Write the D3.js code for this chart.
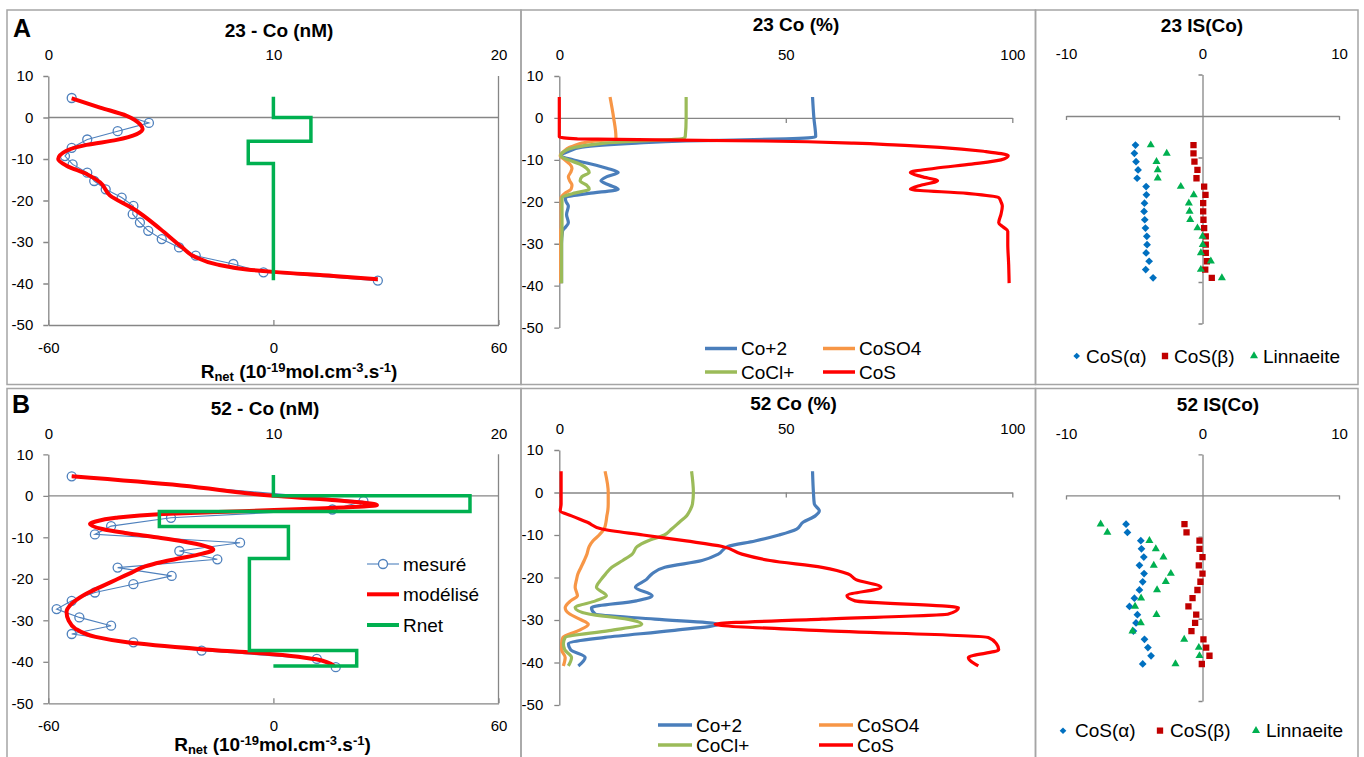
<!DOCTYPE html>
<html><head><meta charset="utf-8">
<script src="https://cdn.jsdelivr.net/npm/d3@7"></script>
<style>body{margin:0;background:#fff}</style>
</head><body><script>
// ---------------- DATA ----------------
const depthTicks = [10, 0, -10, -20, -30, -40, -50];
const concTicks = [0, 10, 20];
const rnetTicks = [-60, 0, 60];
const pctTicks = [0, 50, 100];
const isTicks = [-10, 0, 10];
const speciesNames = ["Co+2", "CoSO4", "CoCl+", "CoS"];
const isNames = ["CoS(α)", "CoS(β)", "Linnaeite"];
const profileNames = ["mesuré", "modélisé", "Rnet"];

// Panel A left: Co (nM) measured / modelled, Rnet
const A_measDepth = [4.7, -1.3, -3.3, -5.3, -7.3, -9.3, -11.3, -13.3, -15.3, -17.3, -19.3, -21.3, -23.3, -25.3, -27.3, -29.3, -31.3, -33.3, -35.3, -37.3, -39.3];
const A_measConc = [1.04, 4.47, 3.08, 1.73, 1.04, 0.74, 1.08, 1.73, 2.04, 2.55, 3.26, 3.78, 3.75, 4.07, 4.44, 5.04, 5.81, 6.55, 8.22, 9.56, 14.64];
const A_modDepth = [4.64, 2.4, 0.4, -1.6, -2.8, -4.0, -5.4, -6.6, -8.0, -10.0, -11.6, -13.6, -15.6, -18.8, -22, -26.8, -31.2, -33.6, -35.4, -36.6, -37.2, -38.2, -39.0];
const A_modConc = [1.04, 2.3, 3.48, 4.07, 4.19, 3.93, 3.04, 1.7, 0.81, 0.44, 0.81, 1.7, 2.3, 2.74, 3.78, 4.96, 5.93, 6.52, 7.48, 8.81, 10.0, 12.67, 14.64];
const A_rnetBounds = [5, 0, -5.7, -11.1, -39.2];
const A_rnetVal = [0, 10, -6.7, 0];

// Panel B left
const B_measDepth = [4.7, -1.3, -3.3, -5.3, -7.3, -9.3, -11.3, -13.3, -15.3, -17.3, -19.3, -21.3, -23.3, -25.3, -27.3, -29.3, -31.3, -33.3, -35.3, -37.3, -39.3, -41.3];
const B_measConc = [1.04, 14.0, 12.62, 5.45, 2.79, 2.07, 8.52, 5.82, 7.51, 3.08, 5.48, 3.78, 2.07, 1.04, 0.37, 1.38, 2.79, 1.04, 3.78, 6.81, 11.93, 12.77];
const B_modDepth = [4.7, 2.5, 0, -1, -2.25, -3, -3.7, -4.4, -5.3, -6.2, -6.8, -8, -9, -10, -11, -12, -13, -14, -15, -16, -17, -18.5, -20, -22, -24, -26, -28, -30, -32, -34, -35.3, -36.9, -38.2, -39, -39.4, -41];
const B_modConc = [1.04, 5.9, 10, 12.6, 14.6, 12.3, 8.6, 5.1, 3.0, 2.1, 1.85, 2.4, 3.5, 4.8, 6.0, 6.9, 7.33, 6.8, 5.9, 5.0, 4.3, 3.7, 3.1, 2.3, 1.55, 1.04, 0.81, 0.9, 1.2, 2.1, 3.5, 6.7, 10, 11.4, 11.9, 12.7];
const B_rnetBounds = [5, 0, -3.8, -7.4, -15.1, -37.3, -41.0, -41.0];
const B_rnetVal = [0, 52.4, -30.4, 4.0, -6.4, 22.2, 0];

// Panel A middle: speciation (%)
const A_specDepth = [5, 0, -4.5, -5, -5.5, -6, -6.5, -7, -8, -9, -10, -11, -12, -13, -14, -15, -16, -17, -18, -19, -20, -21, -23, -25, -26, -27, -30, -35, -39.4];
const A_co2 = [55.9, 56.2, 56.6, 50, 28, 17, 9.5, 5, 2, 0.3, 3, 7, 10.5, 13, 10.5, 9.2, 11, 13, 6.5, 1.3, 1.5, 2, 1.6, 2, 1.4, 0.7, 0.5, 0.5, 0.5];
const A_coso4 = [11.2, 12, 12.5, 12.5, 8, 5, 3.5, 2.3, 1.0, 0.2, 1.2, 2.3, 2.8, 2.5, 2.0, 2.3, 2.8, 2.6, 1.2, 0.4, 0.4, 0.4, 0.4, 0.4, 0.4, 0.3, 0.3, 0.3, 0.3];
const A_cocl = [28, 28, 27.8, 27, 18, 10, 6.4, 3.5, 1.0, 0.3, 2, 4.5, 6, 6.6, 5, 4.6, 6, 6.6, 3, 0.6, 0.6, 0.6, 0.6, 0.6, 0.6, 0.6, 0.5, 0.5, 0.5];
const A_cos = [0, 0, 0, 4, 45, 65, 75, 84, 94, 99.1, 97.5, 91, 83, 77.5, 80, 83.5, 80, 77.5, 90, 97, 97.5, 97.8, 97.5, 97, 98, 99, 99, 99.2, 99.3];

// Panel B middle
const B_specDepth = [5, 0, -2.7, -4.3, -5.5, -7, -8.6, -10, -11.4, -12.7, -14.5, -16, -17.6, -19.2, -20.5, -22.3, -24.3, -25.5, -27.1, -28.6, -29.8, -31, -32.5, -34.1, -35.6, -37, -38.8, -40.8];
const B_co2 = [55.9, 56.1, 56.3, 57.4, 56.5, 53.8, 52.4, 48.5, 43.2, 37.2, 35.1, 31.5, 23.3, 20.4, 19.2, 16.8, 20.5, 17, 7.1, 7.9, 21.1, 35.1, 24.8, 10.1, 2.0, 2.5, 5.7, 4.2];
const B_coso4 = [10.1, 10.8, 10.8, 10.7, 10.5, 10.3, 9.9, 8.8, 7.4, 6.6, 6.1, 5.5, 4.8, 4.1, 3.8, 3.5, 4.0, 2.5, 1.3, 2.3, 4.5, 6.4, 4.2, 0.8, 0.5, 0.5, 1.3, 0.9];
const B_cocl = [29.2, 29.6, 29.4, 28.8, 28.1, 26.5, 24.8, 23.2, 19.5, 17.2, 16.1, 14, 11.6, 10.2, 9.2, 8.2, 10.4, 8, 3.5, 6.5, 15, 18.2, 11, 1.3, 0.9, 1.2, 2.7, 2.0];
const B_cos = [0.4, 0.4, 0.4, 0.2, 2.7, 6.2, 9.4, 18.5, 28, 36, 40.3, 46.5, 58, 63.8, 65.5, 71, 63.5, 65.3, 88.1, 85.9, 58, 34.4, 58, 94.7, 96.5, 97, 90.3, 92.5];

// Panel A right: saturation indices
const A_isDepth = [-7, -9, -11, -13, -15, -17, -19, -21, -23, -25, -27, -29, -31, -33, -35, -37, -39];
const A_isAlpha = [-4.91, -4.99, -4.87, -4.72, -4.79, -4.13, -4.11, -4.25, -4.28, -4.23, -4.18, -4.08, -4.06, -4.13, -3.91, -4.16, -3.62];
const A_isBeta = [-0.66, -0.66, -0.59, -0.37, -0.44, 0.12, 0.22, 0.05, 0.05, 0.07, 0.12, 0.24, 0.24, 0.24, 0.32, 0.2, 0.68];
const A_isLinn = [-3.79, -2.62, -3.37, -3.28, -3.28, -1.59, -0.64, -1.0, -0.95, -0.9, -0.37, 0, 0.02, -0.12, 0.61, -0.12, 1.42];

// Panel B right
const B_isDepth = [-7, -9, -11, -13, -15, -17, -19, -21, -23, -25, -27, -29, -31, -33, -35, -37, -39, -41];
const B_isAlpha = [-5.6, -5.5, -4.52, -4.47, -4.3, -4.62, -4.28, -4.38, -4.62, -4.99, -5.35, -4.77, -4.87, -5.06, -4.25, -4.0, -3.77, -4.38];
const B_isBeta = [-1.32, -1.17, -0.22, -0.22, 0, -0.27, 0, -0.15, -0.37, -0.73, -1.03, -0.46, -0.54, -0.81, 0.07, 0.27, 0.51, -0.05];
const B_isLinn = [-7.46, -6.97, -3.89, -3.42, -2.86, -3.57, -2.32, -2.69, -3.33, -4.5, -4.94, -3.37, -4.52, -5.13, -1.34, -0.27, -0.22, -1.98];

// ---------------- STYLE ----------------
const FONT = "'Liberation Sans', Arial, sans-serif";
const GRAY = "#868686";
const C_MEAS = "#4F81BD", C_MOD = "#FF0000", C_RNET = "#00B050";
const C_SPEC = ["#4A7EBB", "#F79646", "#9BBB59", "#FF0000"];
const C_IS = ["#0070C0", "#C00000", "#00B050"];

const svg = d3.select("body").append("svg").attr("width", 1364).attr("height", 757).style("display", "block");
const defs = svg.append("defs");
let clipN = 0;
function panel(c) {
  const id = "clip" + (clipN++);
  defs.append("clipPath").attr("id", id).append("rect")
    .attr("x", c.x0).attr("y", c.y0).attr("width", c.x1 - c.x0).attr("height", c.y1 - c.y0);
  return svg.append("g").attr("clip-path", `url(#${id})`).style("font-family", FONT);
}
function styleAxis(g) {
  g.attr("font-family", null).attr("font-size", null);
  g.select(".domain").attr("stroke", GRAY).attr("stroke-width", 1.3);
  g.selectAll(".tick line").attr("stroke", GRAY).attr("stroke-width", 1.3);
  g.selectAll(".tick text").attr("fill", "#000").style("font-size", "15px").style("font-family", FONT);
}
function hline(g, x1, x2, y) {
  g.append("line").attr("x1", x1).attr("x2", x2).attr("y1", y).attr("y2", y).attr("stroke", GRAY).attr("stroke-width", 1.3);
}
function title(g, txt, x, y) {
  g.append("text").attr("x", x).attr("y", y).attr("text-anchor", "middle")
    .style("font-weight", "bold").style("font-size", "19px").text(txt);
}
function topLabels(g, scale, ticks, y) {
  const gt = g.append("g").attr("transform", `translate(0,${y})`)
    .call(d3.axisTop(scale).tickValues(ticks).tickFormat(v => String(v)).tickSize(0).tickPadding(0));
  gt.select(".domain").remove();
  styleAxis(gt);
  gt.selectAll("text").attr("dy", "0.35em");
}
function vline(xs, ys, sx, sy, curve) {
  return d3.line().x((v, i) => sx(xs[i])).y((v, i) => sy(ys[i])).curve(curve)(xs);
}

// ---------------- LEFT PANELS ----------------
function drawLeft(c, d) {
  const g = panel(c);
  const y = d3.scaleLinear().domain([10, -50]).range([c.y10, c.y50]);
  const xc = d3.scaleLinear().domain([0, 20]).range([c.px0, c.px1]);
  const xr = d3.scaleLinear().domain([-60, 60]).range([c.px0, c.px1]);
  hline(g, c.px0, c.px1, y(0));
  g.append("line").attr("x1", c.px1).attr("x2", c.px1).attr("y1", c.y10).attr("y2", c.y50).attr("stroke", GRAY).attr("stroke-width", 1.3);
  styleAxis(g.append("g").attr("transform", `translate(${c.px0},0)`)
    .call(d3.axisLeft(y).tickValues(depthTicks).tickFormat(v => String(v)).tickSizeInner(5).tickSizeOuter(0).tickPadding(10)));
  styleAxis(g.append("g").attr("transform", `translate(0,${c.y50})`)
    .call(d3.axisBottom(xr).tickValues(rnetTicks).tickFormat(v => String(v)).tickSizeInner(-5).tickSizeOuter(0).tickPadding(17)));
  topLabels(g, xc, concTicks, c.y10 - 21);

  // measured
  g.append("path").attr("d", vline(d.measConc, d.measDepth, xc, y, d3.curveLinear))
    .attr("fill", "none").attr("stroke", C_MEAS).attr("stroke-width", 1.1);
  g.selectAll(null).data(d.measConc).join("circle")
    .attr("cx", v => xc(v)).attr("cy", (v, i) => y(d.measDepth[i])).attr("r", 4.5)
    .attr("fill", "none").attr("stroke", C_MEAS).attr("stroke-width", 1.3);
  // modelled
  g.append("path").attr("d", vline(d.modConc, d.modDepth, xc, y, d3.curveMonotoneY))
    .attr("fill", "none").attr("stroke", C_MOD).attr("stroke-width", 4).attr("stroke-linejoin", "round");
  // Rnet step profile
  const pts = [];
  d.rnetVal.forEach((v, i) => { pts.push([v, d.rnetBounds[i]]); pts.push([v, d.rnetBounds[i + 1]]); });
  g.append("path").attr("d", d3.line().x(p => xr(p[0])).y(p => y(p[1]))(pts))
    .attr("fill", "none").attr("stroke", C_RNET).attr("stroke-width", 3.5);

  // letter + title
  g.append("text").attr("x", c.letterX).attr("y", c.letterY).style("font-weight", "bold").style("font-size", "25px").text(c.letter);
  title(g, c.title, c.titleX, c.titleY);
  // x label
  const t = g.append("text").attr("x", c.xlabX).attr("y", c.xlabY).attr("text-anchor", "middle")
    .style("font-weight", "bold").style("font-size", "19px");
  t.append("tspan").text("R");
  t.append("tspan").attr("dy", 3).style("font-size", "13px").text("net");
  t.append("tspan").attr("dy", -3).text(" (10");
  t.append("tspan").attr("dy", -6).style("font-size", "13px").text("-19");
  t.append("tspan").attr("dy", 6).text("mol.cm");
  t.append("tspan").attr("dy", -6).style("font-size", "13px").text("-3");
  t.append("tspan").attr("dy", 6).text(".s");
  t.append("tspan").attr("dy", -6).style("font-size", "13px").text("-1");
  t.append("tspan").attr("dy", 6).text(")");

  if (c.legend) {
    const L = c.legend;
    const styles = [[C_MEAS, 1.1], [C_MOD, 4], [C_RNET, 4]];
    profileNames.forEach((n, i) => {
      g.append("line").attr("x1", L.x).attr("x2", L.x + 32).attr("y1", L.ys[i]).attr("y2", L.ys[i])
        .attr("stroke", styles[i][0]).attr("stroke-width", styles[i][1]);
      if (i === 0) g.append("circle").attr("cx", L.x + 16).attr("cy", L.ys[i]).attr("r", 4.5)
        .attr("fill", "#fff").attr("stroke", C_MEAS).attr("stroke-width", 1.3);
      g.append("text").attr("x", L.x + 36).attr("y", L.ys[i]).attr("dy", "0.35em").style("font-size", "19px").text(n);
    });
  }
}

// ---------------- MIDDLE PANELS ----------------
function drawMid(c, d) {
  const g = panel(c);
  const y = d3.scaleLinear().domain([10, -50]).range([c.y10, c.y50]);
  const x = d3.scaleLinear().domain([0, 100]).range([c.px0, c.px1]);
  styleAxis(g.append("g").attr("transform", `translate(${c.px0},0)`)
    .call(d3.axisLeft(y).tickValues(depthTicks).tickFormat(v => String(v)).tickSizeInner(5).tickSizeOuter(0).tickPadding(11)));
  styleAxis(g.append("g").attr("transform", `translate(0,${y(0)})`)
    .call(d3.axisBottom(x).tickValues(pctTicks).tickFormat("").tickSizeInner(5).tickSizeOuter(0)));
  topLabels(g, x, pctTicks, c.y10 - 21);
  const series = [d.co2, d.coso4, d.cocl, d.cos];
  series.forEach((s, i) => {
    g.append("path").attr("d", vline(s, d.depth, x, y, d3.curveMonotoneY))
      .attr("fill", "none").attr("stroke", C_SPEC[i]).attr("stroke-width", 3.2).attr("stroke-linejoin", "round");
  });
  title(g, c.title, c.titleX, c.titleY);
  const L = c.leg;
  speciesNames.forEach((n, i) => {
    const lx = L.xs[i % 2], ly = L.ys[Math.floor(i / 2)];
    g.append("line").attr("x1", lx).attr("x2", lx + L.len).attr("y1", ly).attr("y2", ly)
      .attr("stroke", C_SPEC[i]).attr("stroke-width", 3.5);
    g.append("text").attr("x", lx + L.gap).attr("y", ly).attr("dy", "0.35em").style("font-size", "19px").text(n);
  });
}

// ---------------- RIGHT PANELS ----------------
const symDiamond = d3.symbol(d3.symbolSquare, 30);
const symSquare = d3.symbol(d3.symbolSquare, 40);
const symTri = d3.symbol(d3.symbolTriangle, 28);
function drawRight(c, d) {
  const g = panel(c);
  const y = d3.scaleLinear().domain([10, -50]).range([c.y10, c.y50]);
  const x = d3.scaleLinear().domain([-10, 10]).range([c.px0, c.px1]);
  styleAxis(g.append("g").attr("transform", `translate(${x(0)},0)`)
    .call(d3.axisLeft(y).tickValues(c.vTicks).tickFormat("").tickSizeInner(4).tickSizeOuter(0)));
  styleAxis(g.append("g").attr("transform", `translate(0,${y(0)})`)
    .call(d3.axisBottom(x).tickValues([-10, 10]).tickFormat("").tickSizeInner(4).tickSizeOuter(0)));
  topLabels(g, x, isTicks, c.y10 - 21);
  const sets = [[d.alpha, symDiamond, 45], [d.beta, symSquare, 0], [d.linn, symTri, 0]];
  sets.forEach(([vals, sym, rot], k) => {
    g.selectAll(null).data(vals).join("path")
      .attr("d", sym())
      .attr("transform", (v, i) => `translate(${x(v)},${y(d.depth[i])}) rotate(${rot})`)
      .attr("fill", C_IS[k]);
  });
  title(g, c.title, c.titleX, c.titleY);
  const L = c.leg;
  const lsyms = [[d3.symbol(d3.symbolSquare, 22), 45], [d3.symbol(d3.symbolSquare, 40), 0], [d3.symbol(d3.symbolTriangle, 28), 0]];
  isNames.forEach((n, k) => {
    g.append("path").attr("d", lsyms[k][0]()).attr("transform", `translate(${L.mx[k]},${L.y}) rotate(${lsyms[k][1]})`).attr("fill", C_IS[k]);
    g.append("text").attr("x", L.tx[k]).attr("y", L.y).attr("dy", "0.35em").style("font-size", "19px").text(n);
  });
}

// ---------------- LAYOUT ----------------
const rowA = { y0: 10, y1: 384.5 }, rowB = { y0: 388.5, y1: 760 };
drawLeft({ x0: 7, x1: 521, ...rowA, px0: 48.3, px1: 498.5, y10: 76, y50: 325, letter: "A", letterX: 13, letterY: 37,
  title: "23 - Co (nM)", titleX: 279, titleY: 37, xlabX: 299, xlabY: 378 },
  { measDepth: A_measDepth, measConc: A_measConc, modDepth: A_modDepth, modConc: A_modConc, rnetBounds: A_rnetBounds, rnetVal: A_rnetVal });
drawLeft({ x0: 7, x1: 521, ...rowB, px0: 48.3, px1: 498.5, y10: 454.3, y50: 703.3, letter: "B", letterX: 12, letterY: 413,
  title: "52 - Co (nM)", titleX: 265, titleY: 415, xlabX: 272.5, xlabY: 751, legend: { x: 367, ys: [564, 594.3, 625] } },
  { measDepth: B_measDepth, measConc: B_measConc, modDepth: B_modDepth, modConc: B_modConc, rnetBounds: B_rnetBounds, rnetVal: B_rnetVal });

drawMid({ x0: 521, x1: 1035.5, ...rowA, px0: 559.3, px1: 1012.3, y10: 76, y50: 327.6, title: "23 Co (%)", titleX: 796, titleY: 31,
  leg: { xs: [705, 823], ys: [348.5, 372], len: 32, gap: 36 } },
  { depth: A_specDepth, co2: A_co2, coso4: A_coso4, cocl: A_cocl, cos: A_cos });
drawMid({ x0: 521, x1: 1035.5, ...rowB, px0: 559.3, px1: 1012.3, y10: 450, y50: 705, title: "52 Co (%)", titleX: 793.5, titleY: 410,
  leg: { xs: [658, 819], ys: [725, 745], len: 34, gap: 38 } },
  { depth: B_specDepth, co2: B_co2, coso4: B_coso4, cocl: B_cocl, cos: B_cos });

drawRight({ x0: 1035.5, x1: 1358, ...rowA, px0: 1066, px1: 1339, y10: 74.5, y50: 323.5, vTicks: [10, -10, -40, -50],
  title: "23 IS(Co)", titleX: 1202, titleY: 32, leg: { y: 356, mx: [1076.7, 1165, 1254], tx: [1086, 1174, 1263] } },
  { depth: A_isDepth, alpha: A_isAlpha, beta: A_isBeta, linn: A_isLinn });
drawRight({ x0: 1035.5, x1: 1358, ...rowB, px0: 1066, px1: 1339, y10: 454.3, y50: 701, vTicks: [10, -10, -30, -50],
  title: "52 IS(Co)", titleX: 1218, titleY: 411, leg: { y: 730.7, mx: [1063, 1160, 1256], tx: [1075, 1170, 1266] } },
  { depth: B_isDepth, alpha: B_isAlpha, beta: B_isBeta, linn: B_isLinn });

// panel borders
[[7, 521], [521, 1035.5], [1035.5, 1358]].forEach(([a, b]) => {
  [rowA, rowB].forEach(r => {
    svg.append("rect").attr("x", a).attr("y", r.y0).attr("width", b - a).attr("height", r.y1 - r.y0)
      .attr("fill", "none").attr("stroke", "#A5A5A5").attr("stroke-width", 1.5);
  });
});
</script></body></html>
